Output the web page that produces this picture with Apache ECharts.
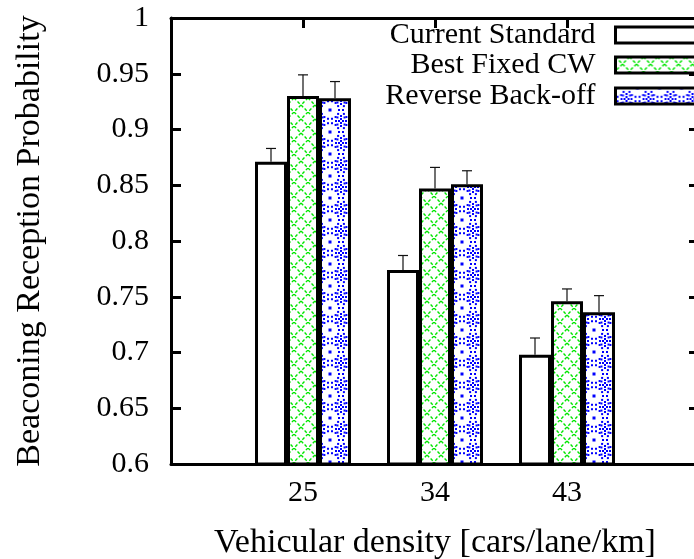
<!DOCTYPE html>
<html>
<head>
<meta charset="utf-8">
<script src="https://cdn.jsdelivr.net/npm/echarts@6/dist/echarts.min.js"></script>
<style>
  html, body { margin: 0; padding: 0; background: #fff; }
  #chart { width: 694px; height: 559px; }
</style>
</head>
<body>
<div id="chart"></div>
<script>
// densities on the x axis (cars/lane/km)
const densities = ["25", "34", "43"];
const seriesNames = ["Current Standard", "Best Fixed CW", "Reverse Back-off"];

// mean reception probability and error bar (half) per density
const currentStd = [0.871, 0.774, 0.698];
const currentErr = [0.012, 0.013, 0.015];
const bestFixed = [0.930, 0.847, 0.746];
const bestFixedErr = [0.019, 0.019, 0.011];
const reverseBo = [0.928, 0.851, 0.736];
const reverseBoErr = [0.015, 0.012, 0.015];

const yTicks = [0.6, 0.65, 0.7, 0.75, 0.8, 0.85, 0.9, 0.95, 1];

const FONT = "Liberation Serif";

// --- fill patterns (gnuplot-ish) ---
function greenPattern() {
  const c = document.createElement("canvas");
  c.width = 14; c.height = 14;
  const g = c.getContext("2d");
  g.fillStyle = "#fff";
  g.fillRect(0, 0, 14, 14);
  g.strokeStyle = "#00e600";
  g.lineWidth = 1.4;
  g.setLineDash([3, 2]);
  g.beginPath();
  g.moveTo(0, 0); g.lineTo(14, 14);
  g.moveTo(14, 0); g.lineTo(0, 14);
  g.stroke();
  return c;
}

function bluePattern() {
  const c = document.createElement("canvas");
  c.width = 22; c.height = 22;
  const g = c.getContext("2d");
  g.fillStyle = "#fff";
  g.fillRect(0, 0, 22, 22);
  g.fillStyle = "#0000ff";
  function ring(cx, cy, r, n) {
    for (let i = 0; i < n; i++) {
      const a = (i / n) * Math.PI * 2;
      g.fillRect(cx + r * Math.cos(a) - 1, cy + r * Math.sin(a) - 1, 2, 2);
    }
  }
  ring(11, 11, 5, 8);
  ring(11, 11, 2, 4);
  // corner dots and outer arcs
  [[0, 0], [22, 0], [0, 22], [22, 22]].forEach(function (p) {
    g.fillRect(p[0] - 1.5, p[1] - 1.5, 3, 3);
    ring(p[0], p[1], 9, 14);
  });
  return c;
}

const fills = [
  "#ffffff",
  { image: greenPattern(), repeat: "repeat" },
  { image: bluePattern(), repeat: "repeat" }
];

const values = [currentStd, bestFixed, reverseBo];
const errs = [currentErr, bestFixedErr, reverseBoErr];

const BAR_W = 32;

function makeRender(k) {
  return function (params, api) {
    const x = api.value(0);
    const v = api.value(1);
    const e = api.value(2);
    const top = api.coord([x, v]);
    const base = api.coord([x, yTicks[0]]);
    const errTop = api.coord([x, v + e]);
    const cx = top[0] + (k - 1) * BAR_W;
    return {
      type: "group",
      children: [
        {
          type: "rect",
          shape: { x: cx - BAR_W / 2 + 1.5, y: top[1] + 1.5, width: BAR_W - 3, height: base[1] - top[1] - 1.5 },
          style: { fill: fills[k], stroke: "#000", lineWidth: 3 }
        },
        {
          type: "line",
          shape: { x1: cx, y1: errTop[1], x2: cx, y2: top[1] },
          style: { stroke: "#111", lineWidth: 1.2 }
        },
        {
          type: "line",
          shape: { x1: cx - 5, y1: errTop[1], x2: cx + 5, y2: errTop[1] },
          style: { stroke: "#111", lineWidth: 1.2 }
        }
      ]
    };
  };
}

const series = seriesNames.map(function (name, k) {
  return {
    name: name,
    type: "custom",
    renderItem: makeRender(k),
    itemStyle: { color: fills[k], borderColor: "#000", borderWidth: 3 },
    data: densities.map(function (d, i) { return [i, values[k][i], errs[k][i]]; }),
    z: 3
  };
});

const legendTops = [15, 45, 76];
const legends = seriesNames.map(function (name, k) {
  return {
    data: [name],
    orient: "vertical",
    right: -19,
    top: legendTops[k],
    align: "right",
    itemWidth: 91,
    itemHeight: 16,
    selectedMode: false,
    icon: "rect",
    itemStyle: { borderColor: "#000", borderWidth: 3 },
    textStyle: { fontFamily: FONT, fontSize: 30, color: "#000", padding: [0, 15, 0, 0] }
  };
});

const chart = echarts.init(document.getElementById("chart"));

function axisLine() {
  return { show: true, onZero: false, lineStyle: { color: "#000", width: 3 } };
}
function inTick() {
  return { show: true, inside: true, length: 10, lineStyle: { color: "#000", width: 3 } };
}

chart.setOption({
  animation: false,
  backgroundColor: "#fff",
  textStyle: { fontFamily: FONT },
  legend: legends,
  grid: { left: 171, right: -5, top: 18, bottom: 95, outerBoundsMode: "none" },
  xAxis: [
    {
      type: "value",
      min: -1,
      max: 3,
      interval: 1,
      name: "Vehicular density [cars/lane/km]",
      nameLocation: "middle",
      nameGap: 62,
      nameTextStyle: { fontFamily: FONT, fontSize: 34, color: "#000" },
      axisLine: axisLine(),
      axisTick: inTick(),
      splitLine: { show: false },
      axisLabel: {
        fontFamily: FONT, fontSize: 30, color: "#000", margin: 14,
        formatter: function (v) { return densities[v] !== undefined ? densities[v] : ""; }
      }
    },
    {
      // mirrored top border with ticks at each density
      type: "value",
      position: "top",
      min: -1,
      max: 3,
      interval: 1,
      axisLine: axisLine(),
      axisTick: inTick(),
      axisLabel: { show: false },
      splitLine: { show: false }
    }
  ],
  yAxis: [
    {
      type: "value",
      min: yTicks[0],
      max: yTicks[yTicks.length - 1],
      interval: 0.05,
      name: "Beaconing Reception Probability",
      nameLocation: "middle",
      nameRotate: 90,
      nameGap: 124,
      nameTextStyle: { fontFamily: FONT, fontSize: 34, color: "#000" },
      axisLine: axisLine(),
      axisTick: inTick(),
      splitLine: { show: false },
      axisLabel: {
        fontFamily: FONT, fontSize: 30, color: "#000", margin: 22,
        formatter: function (v) { return String(parseFloat(v.toFixed(2))); }
      }
    },
    {
      type: "value",
      position: "right",
      min: yTicks[0],
      max: yTicks[yTicks.length - 1],
      interval: 0.05,
      axisLine: axisLine(),
      axisTick: inTick(),
      axisLabel: { show: false },
      splitLine: { show: false }
    }
  ],
  series: series
});
</script>
</body>
</html>
